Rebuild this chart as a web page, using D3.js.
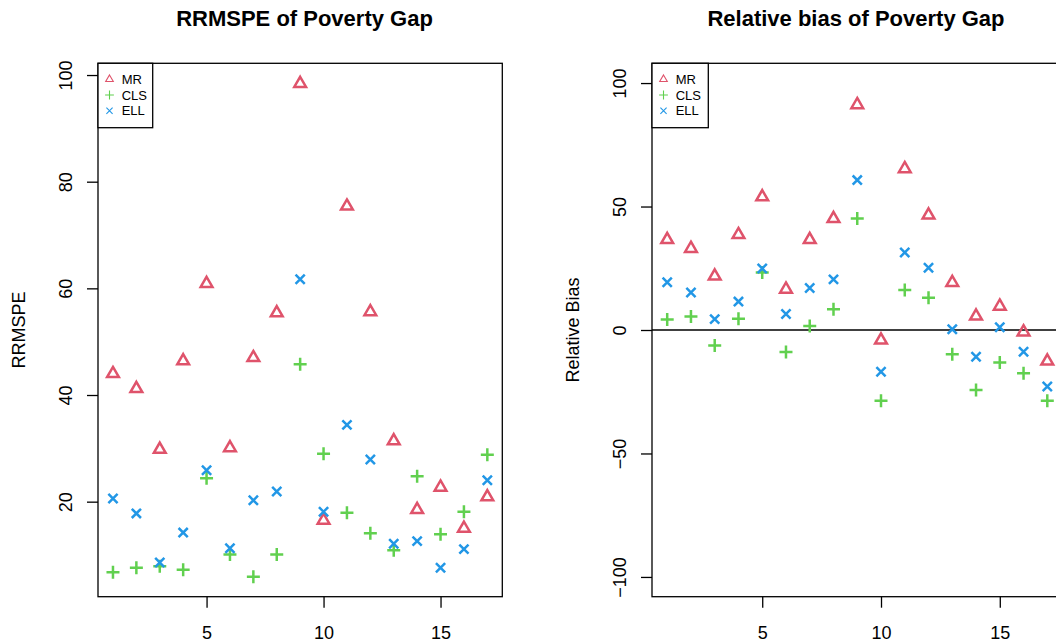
<!DOCTYPE html>
<html>
<head>
<meta charset="utf-8">
<script src="https://cdn.jsdelivr.net/npm/d3@7"></script>
<style>
  html, body { margin: 0; padding: 0; background: #fff; }
  svg { display: block; font-family: "Liberation Sans", Arial, Helvetica, sans-serif; }
</style>
</head>
<body>
<svg id="chart" width="1056" height="644"></svg>
<script>
// ---- data ----
const areas = [1,2,3,4,5,6,7,8,9,10,11,12,13,14,15,16,17];
const seriesNames = ["MR", "CLS", "ELL"];

const rrmspeMR  = [44.0, 41.2, 29.8, 46.4, 60.9, 30.1, 47.0, 55.4, 98.4, 16.5, 75.4, 55.6, 31.4, 18.5, 22.7, 15.0, 20.9];
const rrmspeCLS = [6.75, 7.6, 7.9, 7.25, 24.4, 10.1, 5.9, 10.1, 45.75, 29.0, 17.9, 14.1, 10.9, 24.75, 13.9, 18.1, 28.8];
const rrmspeELL = [20.6, 17.8, 8.6, 14.2, 25.9, 11.25, 20.25, 21.9, 61.7, 18.1, 34.4, 27.9, 12.1, 12.6, 7.6, 11.1, 24.0];

const biasMR  = [36.6, 33.0, 21.8, 38.6, 53.9, 16.5, 36.6, 45.1, 91.2, -4.1, 65.3, 46.5, 19.2, 5.6, 9.6, -0.8, -12.6];
const biasCLS = [4.3, 5.5, -6.3, 4.6, 23.3, -8.9, 1.6, 8.4, 45.2, -28.6, 16.2, 13.1, -9.8, -24.3, -13.2, -17.5, -28.6];
const biasELL = [19.3, 15.2, 4.4, 11.5, 24.9, 6.5, 17.0, 20.5, 60.7, -16.9, 31.4, 25.2, 0.3, -10.8, 1.1, -8.8, -22.9];

const xTicks = [5, 10, 15];
const rrmspeTicks = [20, 40, 60, 80, 100];
const biasTicks = [-100, -50, 0, 50, 100];

// ---- style ----
const colors = { MR: "#DF536B", CLS: "#61D04F", ELL: "#2297E6" };
const svg = d3.select("#chart");

function markerPath(type, s) {
  if (type === "MR") {
    const r = s.tri;
    return `M0,${-r}L${0.866*r},${r/2}L${-0.866*r},${r/2}Z`;
  } else if (type === "CLS") {
    const h = s.plus;
    return `M${-h},0L${h},0M0,${-h}L0,${h}`;
  } else {
    const h = s.cross;
    return `M${-h},${-h}L${h},${h}M${-h},${h}L${h},${-h}`;
  }
}

function panel(opt) {
  const g = svg.append("g");
  const x = d3.scaleLinear().domain([0.36, 17.64]).range([opt.left, opt.right]);
  const y = d3.scaleLinear().domain(opt.yDomain).range([opt.bottom, opt.top]);

  // clip
  const clipId = "clip" + opt.id;
  svg.append("clipPath").attr("id", clipId).append("rect")
    .attr("x", opt.left).attr("y", opt.top)
    .attr("width", opt.right - opt.left).attr("height", opt.bottom - opt.top);

  // title
  g.append("text").attr("x", opt.titleX).attr("y", 25.7)
    .attr("text-anchor", "middle").attr("font-size", 22).attr("font-weight", "bold")
    .attr("fill", "#000").text(opt.title);

  // y axis label
  g.append("text")
    .attr("transform", `translate(${opt.yLabelX},${(opt.top + opt.bottom) / 2}) rotate(-90)`)
    .attr("text-anchor", "middle").attr("font-size", 18).attr("fill", "#000").text(opt.yLabel);

  // x axis
  const xa = g.append("g").attr("transform", `translate(0,${opt.bottom})`)
    .call(d3.axisBottom(x).tickValues(xTicks).tickSize(11).tickSizeOuter(0).tickFormat(d3.format("d")));
  xa.select(".domain").remove();
  xa.selectAll(".tick line").attr("stroke", "#000").attr("stroke-width", 1.3);
  xa.selectAll(".tick text").attr("y", 42.6).attr("dy", 0)
    .attr("font-size", 18).attr("font-family", "Liberation Sans, Arial, sans-serif").attr("fill", "#000");

  // y axis
  const ya = g.append("g").attr("transform", `translate(${opt.left},0)`)
    .call(d3.axisLeft(y).tickValues(opt.yTicks).tickSize(11).tickSizeOuter(0)
      .tickFormat(d => d < 0 ? "\u2212" + Math.abs(d) : String(d)));
  ya.select(".domain").remove();
  ya.selectAll(".tick line").attr("stroke", "#000").attr("stroke-width", 1.3);
  ya.selectAll(".tick text").attr("x", null).attr("dy", 0)
    .attr("transform", "translate(-26.5,0) rotate(-90)")
    .attr("text-anchor", "middle")
    .attr("font-size", 18).attr("font-family", "Liberation Sans, Arial, sans-serif").attr("fill", "#000");

  // zero line
  if (opt.zeroLine) {
    g.append("line").attr("clip-path", `url(#${clipId})`)
      .attr("x1", opt.left).attr("x2", opt.right)
      .attr("y1", y(0)).attr("y2", y(0))
      .attr("stroke", "#000").attr("stroke-width", 1.3);
  }

  // points
  const ms = { tri: 6.8, plus: 6.5, cross: 4.6 };
  const pts = g.append("g").attr("clip-path", `url(#${clipId})`);
  opt.series.forEach(([name, vals]) => {
    pts.selectAll(null).data(vals.map((v, i) => [areas[i], v])).enter()
      .append("path")
      .attr("transform", d => `translate(${x(d[0])},${y(d[1])})`)
      .attr("d", markerPath(name, ms))
      .attr("fill", "none").attr("stroke", colors[name]).attr("stroke-width", 2.5);
  });

  // box
  g.append("rect").attr("x", opt.left).attr("y", opt.top)
    .attr("width", opt.right - opt.left).attr("height", opt.bottom - opt.top)
    .attr("fill", "none").attr("stroke", "#000").attr("stroke-width", 1.3);

  // legend
  const lg = g.append("g");
  lg.append("rect").attr("x", opt.left).attr("y", opt.top)
    .attr("width", opt.legendW).attr("height", 64.4)
    .attr("fill", "#fff").attr("stroke", "#000").attr("stroke-width", 1.3);
  const lms = { tri: 4.4, plus: 4.4, cross: 3.1 };
  seriesNames.forEach((name, i) => {
    const cy = opt.top + 16 + i * 15.7;
    lg.append("path").attr("transform", `translate(${opt.left + 11.5},${cy})`)
      .attr("d", markerPath(name, lms))
      .attr("fill", "none").attr("stroke", colors[name]).attr("stroke-width", 1.1);
    lg.append("text").attr("x", opt.left + 23.7).attr("y", cy + 4.7)
      .attr("font-size", 13).attr("fill", "#000").text(name);
  });
}

panel({
  id: 1, left: 98, right: 502.3, top: 63.3, bottom: 596.7,
  yDomain: [2.18, 102.2], yTicks: rrmspeTicks, titleX: 304.5,
  title: "RRMSPE of Poverty Gap", yLabel: "RRMSPE", yLabelX: 25,
  legendW: 54.7, zeroLine: false,
  series: [["MR", rrmspeMR], ["CLS", rrmspeCLS], ["ELL", rrmspeELL]]
});

panel({
  id: 2, left: 652, right: 1062.5, top: 63.3, bottom: 596.7,
  yDomain: [-108, 108], yTicks: biasTicks, titleX: 856,
  title: "Relative bias of Poverty Gap", yLabel: "Relative Bias", yLabelX: 579.3,
  legendW: 56.3, zeroLine: true,
  series: [["MR", biasMR], ["CLS", biasCLS], ["ELL", biasELL]]
});
</script>
</body>
</html>
